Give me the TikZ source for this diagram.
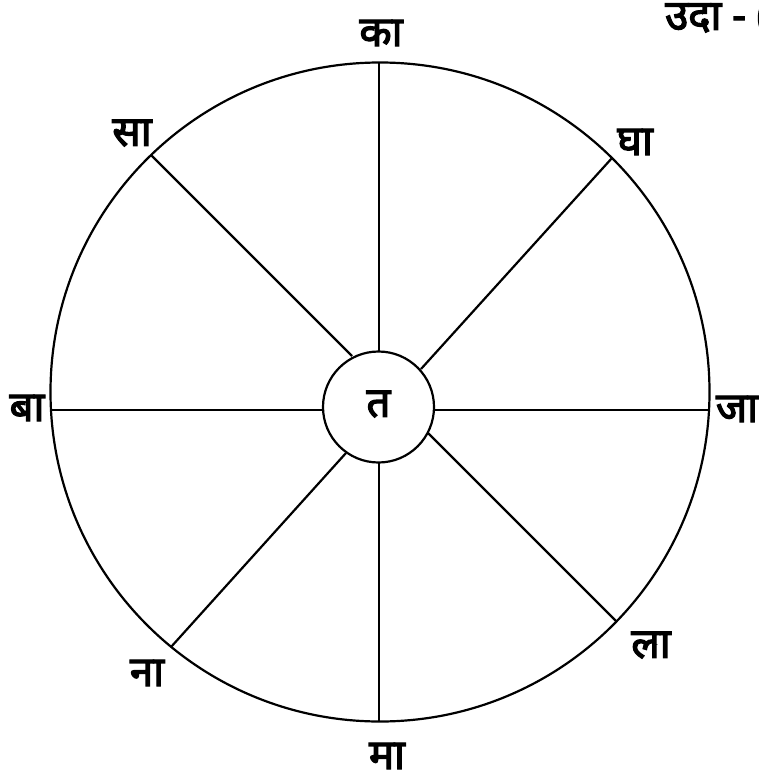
\documentclass[tikz,border=0pt]{standalone}
\usepackage{fontspec}
\newfontfamily\deva[Script=Devanagari,FakeBold=3]{Noto Sans}
\begin{document}
\begin{tikzpicture}[x=1pt,y=-1pt,
  lbl/.style={font=\deva\fontsize{42}{46}\selectfont, inner sep=0pt},
  ln/.style={line width=2.2pt}]
\useasboundingbox (0,0) rectangle (759,778);
% outer circle
\node[ln, draw, circle, minimum size=659pt, inner sep=0pt] (outer) at (380,392) {};
% inner circle
\node[ln, draw, circle, minimum size=111pt, inner sep=0pt] (hub) at (378.5,407) {};
\node[lbl] (ta) at (378.5,404) {त};
% spoke end coordinates
\coordinate (oT) at (379,63);   \coordinate (iT) at (379,351);
\coordinate (oB) at (379,722);  \coordinate (iB) at (379,462);
\coordinate (oL) at (51,410);   \coordinate (iL) at (323,410);
\coordinate (oR) at (709,410);  \coordinate (iR) at (434,410);
\coordinate (oTL) at (151,155); \coordinate (iTL) at (352,356);
\coordinate (oTR) at (612,158); \coordinate (iTR) at (421,369);
\coordinate (oBR) at (617,622); \coordinate (iBR) at (428,433);
\coordinate (oBL) at (171,647); \coordinate (iBL) at (346,453);
\foreach \a in {T,B,L,R,TL,TR,BR,BL} \draw[ln] (o\a) -- (i\a);
% labels
\node[lbl] (ka) at (381,33) {का};
\node[lbl] (sa) at (132,133) {सा};
\node[lbl] (gha) at (635,142) {घा};
\node[lbl] (ba) at (27,408) {बा};
\node[lbl] (ja) at (737,409) {जा};
\node[lbl] (na) at (147,673) {ना};
\node[lbl] (la) at (651,645) {ला};
\node[lbl] (ma) at (387,756) {मा};
\node[font=\deva\fontsize{42}{46}\selectfont, inner sep=0pt, anchor=west] (uda) at (665,18) {उदा - (};
\end{tikzpicture}
\end{document}
